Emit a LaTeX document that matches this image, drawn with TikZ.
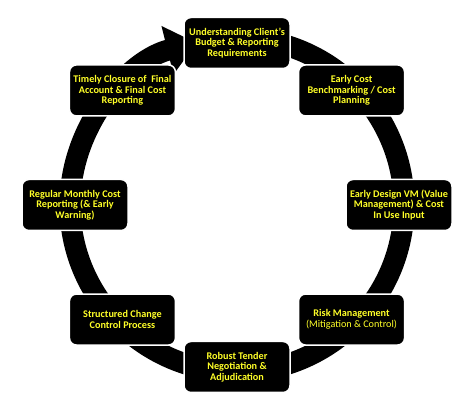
\documentclass[tikz,border=0pt]{standalone}
\usepackage{fontspec}
\setmainfont{Carlito}
\usepackage{tikz}
\usetikzlibrary{arrows.meta}

\definecolor{stepyellow}{RGB}{255,255,40}

\begin{document}
\begin{tikzpicture}[x=1pt, y=1pt,
  box/.style={rectangle, rounded corners=7pt, fill=black, draw=white, line width=1.5pt,
    minimum width=106pt, minimum height=51pt, inner sep=2pt, align=center,
    text=stepyellow, font=\fontsize{10.2}{10.6}\selectfont\bfseries},
  ring/.style={line width=21pt, draw=black, -{Triangle[length=30pt, width=48pt]}}]
  \useasboundingbox (0,0) rectangle (474,412);

  %Define nodes
  \coordinate (c) at (237,207);

  % The cycle
  \draw[ring] ([shift={(80:167)}]c) arc[start angle=80, end angle=-256, radius=167];

  \node[box] (brief)   at ([shift={(90:162)}]c)   {Understanding Client’s\\Budget \& Reporting\\Requirements};
  \node[box] (bench)   at ([shift={(45:162)}]c)   {Early Cost\\Benchmarking / Cost\\Planning};
  \node[box] (vm)      at ([shift={(0:162)}]c)    {Early Design VM (Value\\Management) \& Cost\\In Use Input};
  \node[box] (risk)    at ([shift={(-45:162)}]c)  {Risk Management\\{\mdseries(Mitigation \& Control)}};
  \node[box] (tender)  at ([shift={(-90:162)}]c)  {Robust Tender\\Negotiation \&\\Adjudication};
  \node[box] (change)  at ([shift={(-135:162)}]c) {Structured Change\\Control Process};
  \node[box] (monthly) at ([shift={(180:162)}]c)  {Regular Monthly Cost\\Reporting (\& Early\\Warning)};
  \node[box] (closure) at ([shift={(135:162)}]c)  {Timely Closure of~ Final\\Account \& Final Cost\\Reporting};

\end{tikzpicture}
\end{document}
